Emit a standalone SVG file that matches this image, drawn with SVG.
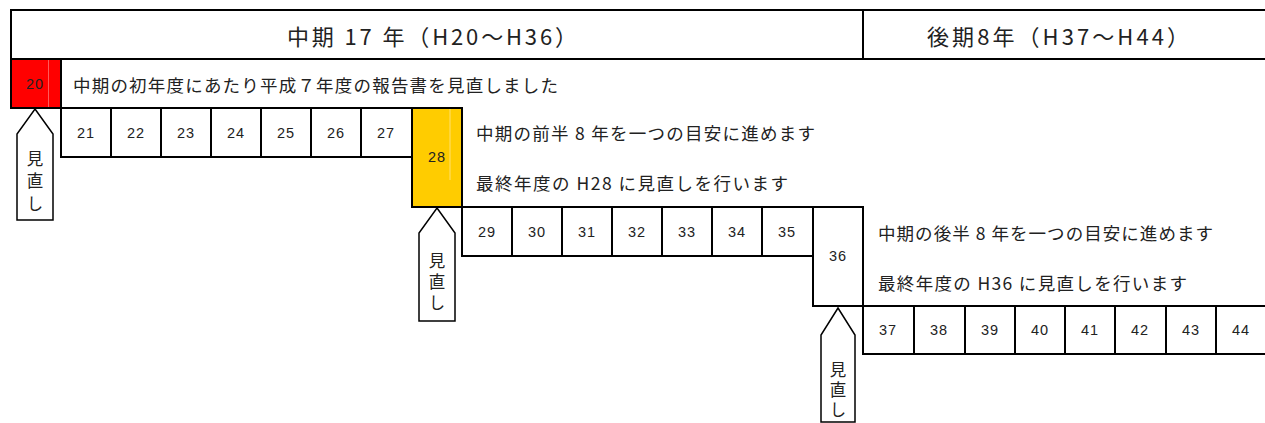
<svg xmlns="http://www.w3.org/2000/svg" width="1265" height="423" viewBox="0 0 1265 423">
<style>
.bg{fill:#ffffff}
.cell{fill:#ffffff;stroke:#000;stroke-width:2}
.red{fill:#ff0000;stroke:#000;stroke-width:2}
.yel{fill:#ffcc00}
.ln{stroke:#000;stroke-width:2;fill:none}
.arrow{fill:#ffffff;stroke:#000;stroke-width:1.5;stroke-linejoin:miter}
.num{font-family:"Liberation Sans","Noto Sans CJK JP",sans-serif;font-size:14.5px;fill:#222;text-anchor:middle;dominant-baseline:central;letter-spacing:1px}
.jp{font-family:"Noto Sans CJK JP","Noto Sans",sans-serif;font-size:17.5px;fill:#222;dominant-baseline:central}
.hd{font-family:"Noto Sans CJK JP","Noto Sans",sans-serif;font-size:22px;fill:#222;dominant-baseline:central}
.vt{font-family:"Noto Sans CJK JP","Noto Sans",sans-serif;font-size:16.5px;fill:#222;writing-mode:vertical-rl}
</style>
<rect class="bg" x="0" y="0" width="1265" height="423"/>

<g id="header">
  <rect class="cell" x="11" y="10" width="1262" height="49"/>
  <line class="ln" x1="863" y1="10" x2="863" y2="59"/>
  <text class="hd" x="287" y="35" textLength="290" lengthAdjust="spacing">中期 17 年（H20〜H36）</text>
  <text class="hd" x="927" y="35" textLength="262" lengthAdjust="spacing">後期8年（H37〜H44）</text>
</g>

<g id="connectors">
</g>

<g id="y20">
  <rect class="red" x="11" y="59" width="50" height="49"/>
  <line x1="48.5" y1="60" x2="48.5" y2="107" stroke="#ff5a5a" stroke-width="1"/>
  <text class="num" x="35" y="84">20</text>
</g>
<g id="row1-text">
  <text class="jp" x="73" y="84" textLength="485" lengthAdjust="spacing">中期の初年度にあたり平成７年度の報告書を見直しました</text>
</g>

<g id="y21"><rect class="cell" x="61" y="108" width="50" height="49"/><text class="num" x="86" y="133">21</text></g>
<g id="y22"><rect class="cell" x="111" y="108" width="50" height="49"/><text class="num" x="136" y="133">22</text></g>
<g id="y23"><rect class="cell" x="161" y="108" width="50" height="49"/><text class="num" x="186" y="133">23</text></g>
<g id="y24"><rect class="cell" x="211" y="108" width="50" height="49"/><text class="num" x="236" y="133">24</text></g>
<g id="y25"><rect class="cell" x="261" y="108" width="50" height="49"/><text class="num" x="286" y="133">25</text></g>
<g id="y26"><rect class="cell" x="311" y="108" width="50" height="49"/><text class="num" x="336" y="133">26</text></g>
<g id="y27"><rect class="cell" x="361" y="108" width="51" height="49"/><text class="num" x="386" y="133">27</text></g>

<g id="y28">
  <rect class="yel" x="412" y="108" width="50" height="99"/>
  <line x1="450" y1="109" x2="450" y2="180" stroke="#ffe070" stroke-width="1"/>
  <path class="ln" d="M462,157 L462,108 L412,108 L412,207 L462,207"/>
  <line class="ln" x1="462" y1="157" x2="462" y2="208"/>
  <text class="num" x="437" y="157">28</text>
</g>
<g id="row2-text">
  <text class="jp" x="476" y="132" textLength="339" lengthAdjust="spacing">中期の前半 8 年を一つの目安に進めます</text>
  <text class="jp" x="476" y="182" textLength="312" lengthAdjust="spacing">最終年度の H28 に見直しを行います</text>
</g>

<g id="y29"><rect class="cell" x="462" y="207" width="50" height="49"/><text class="num" x="487" y="232">29</text></g>
<g id="y30"><rect class="cell" x="512" y="207" width="50" height="49"/><text class="num" x="537" y="232">30</text></g>
<g id="y31"><rect class="cell" x="562" y="207" width="50" height="49"/><text class="num" x="587" y="232">31</text></g>
<g id="y32"><rect class="cell" x="612" y="207" width="50" height="49"/><text class="num" x="637" y="232">32</text></g>
<g id="y33"><rect class="cell" x="662" y="207" width="50" height="49"/><text class="num" x="687" y="232">33</text></g>
<g id="y34"><rect class="cell" x="712" y="207" width="50" height="49"/><text class="num" x="737" y="232">34</text></g>
<g id="y35"><rect class="cell" x="762" y="207" width="51" height="49"/><text class="num" x="787" y="232">35</text></g>

<g id="y36">
  <rect class="cell" x="813" y="207" width="50" height="99"/>
  <text class="num" x="838" y="256">36</text>
</g>
<g id="row3-text">
  <text class="jp" x="878" y="232" textLength="335" lengthAdjust="spacing">中期の後半 8 年を一つの目安に進めます</text>
  <text class="jp" x="878" y="282" textLength="309" lengthAdjust="spacing">最終年度の H36 に見直しを行います</text>
</g>

<g id="y37"><rect class="cell" x="863" y="306" width="51" height="48"/><text class="num" x="888" y="330">37</text></g>
<g id="y38"><rect class="cell" x="914" y="306" width="51" height="48"/><text class="num" x="939" y="330">38</text></g>
<g id="y39"><rect class="cell" x="965" y="306" width="50" height="48"/><text class="num" x="990" y="330">39</text></g>
<g id="y40"><rect class="cell" x="1015" y="306" width="50" height="48"/><text class="num" x="1040" y="330">40</text></g>
<g id="y41"><rect class="cell" x="1065" y="306" width="50" height="48"/><text class="num" x="1090" y="330">41</text></g>
<g id="y42"><rect class="cell" x="1115" y="306" width="51" height="48"/><text class="num" x="1140" y="330">42</text></g>
<g id="y43"><rect class="cell" x="1166" y="306" width="50" height="48"/><text class="num" x="1191" y="330">43</text></g>
<g id="y44"><rect class="cell" x="1216" y="306" width="55" height="48"/><text class="num" x="1241" y="330">44</text></g>

<g id="review1">
  <path class="arrow" d="M35,109 L53,134 L53,220 L17,220 L17,134 Z"/>
  <text class="vt" x="35" y="150" letter-spacing="6">見直し</text>
</g>
<g id="review2">
  <path class="arrow" d="M437,208 L455,233 L455,321 L419,321 L419,233 Z"/>
  <text class="vt" x="437" y="252" letter-spacing="4.5">見直し</text>
</g>
<g id="review3">
  <path class="arrow" d="M838,308 L855,335 L855,422 L821,422 L821,335 Z"/>
  <text class="vt" x="838" y="361" letter-spacing="3.5">見直し</text>
</g>
</svg>
